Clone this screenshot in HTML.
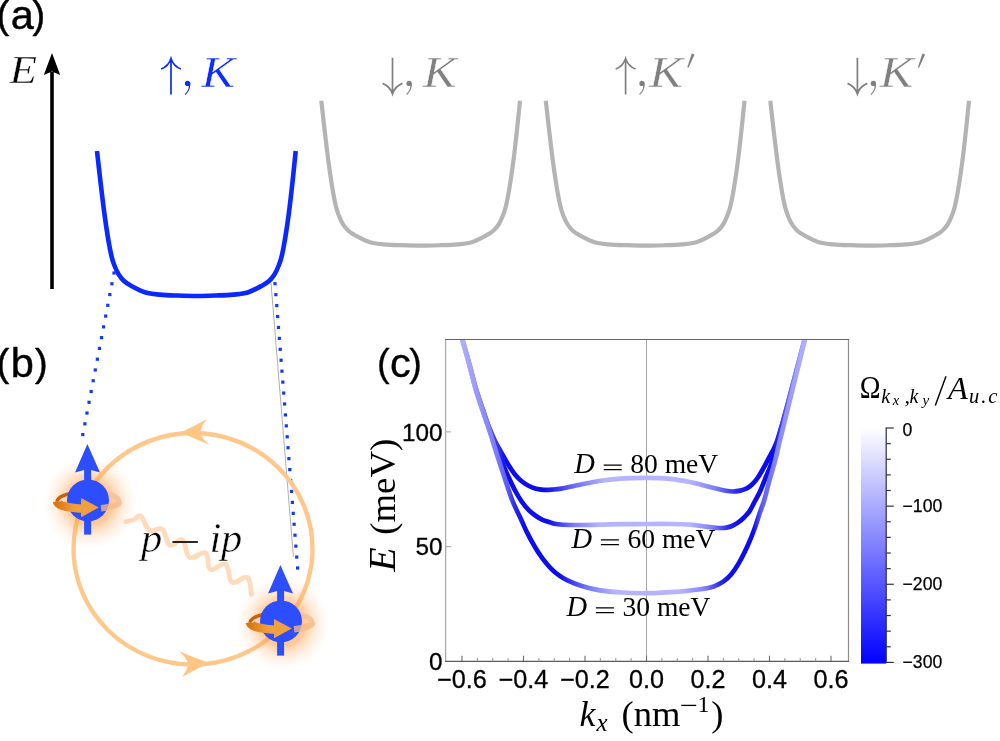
<!DOCTYPE html>
<html><head><meta charset="utf-8"><title>figure</title>
<style>
html,body{margin:0;padding:0;background:#fff;}
body{width:1000px;height:741px;overflow:hidden;font-family:"Liberation Sans",sans-serif;}
svg{display:block;}
.sans{font-family:"Liberation Sans",sans-serif;}
.serif{font-family:"Liberation Serif",serif;}
.it{font-family:"Liberation Serif",serif;font-style:italic;}
</style></head><body>
<svg width="1000" height="741" viewBox="0 0 1000 741">
<defs>
<filter id="noop" x="0" y="0" width="1000" height="741" filterUnits="userSpaceOnUse" color-interpolation-filters="sRGB"><feOffset dx="0" dy="0"/></filter>
<linearGradient id="g80" gradientUnits="userSpaceOnUse" x1="0" y1="0" x2="1000" y2="0"><stop offset="0.4610" stop-color="#b0b0ff"/><stop offset="0.4700" stop-color="#9c9cfc"/><stop offset="0.4800" stop-color="#7a7af6"/><stop offset="0.4900" stop-color="#5050f0"/><stop offset="0.5000" stop-color="#2a2aec"/><stop offset="0.5060" stop-color="#0c0cee"/><stop offset="0.5450" stop-color="#0c0cee"/><stop offset="0.5750" stop-color="#7070f6"/><stop offset="0.6050" stop-color="#b4b4ff"/><stop offset="0.6900" stop-color="#b4b4ff"/><stop offset="0.7150" stop-color="#8080f8"/><stop offset="0.7350" stop-color="#3030ee"/><stop offset="0.7480" stop-color="#0c0cee"/><stop offset="0.7720" stop-color="#0c0cee"/><stop offset="0.7820" stop-color="#4a4af0"/><stop offset="0.7920" stop-color="#7474f6"/><stop offset="0.8050" stop-color="#b0b0ff"/></linearGradient><linearGradient id="g60" gradientUnits="userSpaceOnUse" x1="0" y1="0" x2="1000" y2="0"><stop offset="0.4610" stop-color="#b0b0ff"/><stop offset="0.4700" stop-color="#9c9cfc"/><stop offset="0.4800" stop-color="#7a7af6"/><stop offset="0.4900" stop-color="#5050f0"/><stop offset="0.5000" stop-color="#2a2aec"/><stop offset="0.5060" stop-color="#0c0cee"/><stop offset="0.5480" stop-color="#0c0cee"/><stop offset="0.5750" stop-color="#8080f8"/><stop offset="0.6000" stop-color="#b4b4ff"/><stop offset="0.6900" stop-color="#b4b4ff"/><stop offset="0.7120" stop-color="#8080f8"/><stop offset="0.7280" stop-color="#2a2aee"/><stop offset="0.7400" stop-color="#0c0cee"/><stop offset="0.7730" stop-color="#0c0cee"/><stop offset="0.7830" stop-color="#4a4af0"/><stop offset="0.7930" stop-color="#7474f6"/><stop offset="0.8050" stop-color="#b0b0ff"/></linearGradient><linearGradient id="g30" gradientUnits="userSpaceOnUse" x1="0" y1="0" x2="1000" y2="0"><stop offset="0.4610" stop-color="#b0b0ff"/><stop offset="0.4800" stop-color="#9494fa"/><stop offset="0.4970" stop-color="#7a7af6"/><stop offset="0.5080" stop-color="#5a5af2"/><stop offset="0.5160" stop-color="#2424ec"/><stop offset="0.5250" stop-color="#0c0cee"/><stop offset="0.5600" stop-color="#0c0cee"/><stop offset="0.5850" stop-color="#7070f6"/><stop offset="0.6150" stop-color="#b4b4ff"/><stop offset="0.6800" stop-color="#b4b4ff"/><stop offset="0.7050" stop-color="#8080f8"/><stop offset="0.7200" stop-color="#2a2aee"/><stop offset="0.7300" stop-color="#0c0cee"/><stop offset="0.7530" stop-color="#0c0cee"/><stop offset="0.7610" stop-color="#5a5af2"/><stop offset="0.7760" stop-color="#8686f8"/><stop offset="0.8050" stop-color="#b0b0ff"/></linearGradient>
<linearGradient id="cb" x1="0" y1="0" x2="0" y2="1"><stop offset="0" stop-color="#ffffff"/><stop offset="1" stop-color="#0000ff"/></linearGradient>
<radialGradient id="glow" cx="0.5" cy="0.5" r="0.5">
<stop offset="0" stop-color="#ff9840" stop-opacity="0.56"/><stop offset="0.45" stop-color="#ff9840" stop-opacity="0.54"/><stop offset="0.55" stop-color="#ff9b44" stop-opacity="0.4"/><stop offset="0.67" stop-color="#ff9e4a" stop-opacity="0.24"/><stop offset="0.8" stop-color="#ffa250" stop-opacity="0.11"/><stop offset="0.92" stop-color="#ffa250" stop-opacity="0.035"/><stop offset="1" stop-color="#ffa250" stop-opacity="0"/>
</radialGradient>
<linearGradient id="ring" x1="0" y1="0" x2="1" y2="0"><stop offset="0" stop-color="#d87614"/><stop offset="0.55" stop-color="#ee9a3a"/><stop offset="1" stop-color="#f2a448"/></linearGradient>
</defs>
<rect width="1000" height="741" fill="#ffffff"/>
<g filter="url(#noop)">
<g id="panelA">
<g class="sans" fill="#000" stroke="#000" stroke-width="0.45"><text x="-3.6" y="27.5" font-size="38">(</text><text x="10.7" y="29.0" font-size="41.5">a</text><text x="32.5" y="27.5" font-size="38">)</text></g>
<text class="it" x="9.5" y="82.5" font-size="39" fill="#000" stroke="#fff" stroke-width="0.4" textLength="27.5" lengthAdjust="spacingAndGlyphs">E</text>
<line x1="52" y1="289" x2="52" y2="72" stroke="#000" stroke-width="3.6"/>
<path d="M52,53 L60.2,75 L52,71.5 L43.8,75 Z" fill="#000"/>
<path d="M97.00,151.00 C97.58,156.17 99.28,171.68 100.50,182.00 C101.72,192.32 103.05,203.57 104.30,212.90 C105.55,222.23 106.78,230.72 108.00,238.00 C109.22,245.28 110.47,251.85 111.60,256.60 C112.73,261.35 113.58,263.47 114.80,266.50 C116.02,269.53 117.37,272.38 118.90,274.80 C120.43,277.22 121.98,279.18 124.00,281.00 C126.02,282.82 127.40,283.78 131.00,285.70 C134.60,287.62 140.77,291.02 145.60,292.50 C150.43,293.98 154.77,294.10 160.00,294.60 C165.23,295.10 170.90,295.27 177.00,295.50 C183.10,295.73 190.10,296.00 196.60,296.00 C203.10,296.00 209.93,295.73 216.00,295.50 C222.07,295.27 227.73,295.10 233.00,294.60 C238.27,294.10 242.77,293.98 247.60,292.50 C252.43,291.02 258.43,287.62 262.00,285.70 C265.57,283.78 266.95,282.82 269.00,281.00 C271.05,279.18 272.75,277.22 274.30,274.80 C275.85,272.38 277.08,269.53 278.30,266.50 C279.52,263.47 280.45,261.35 281.60,256.60 C282.75,251.85 283.98,245.28 285.20,238.00 C286.42,230.72 287.68,222.23 288.90,212.90 C290.12,203.57 291.37,192.32 292.50,182.00 C293.63,171.68 295.17,156.17 295.70,151.00" fill="none" stroke="#0a28ff" stroke-width="4.6" stroke-linejoin="round"/>
<path d="M97.00,151.00 C97.58,156.17 99.28,171.68 100.50,182.00 C101.72,192.32 103.05,203.57 104.30,212.90 C105.55,222.23 106.78,230.72 108.00,238.00 C109.22,245.28 110.47,251.85 111.60,256.60 C112.73,261.35 113.58,263.47 114.80,266.50 C116.02,269.53 117.37,272.38 118.90,274.80 C120.43,277.22 121.98,279.18 124.00,281.00 C126.02,282.82 127.40,283.78 131.00,285.70 C134.60,287.62 140.77,291.02 145.60,292.50 C150.43,293.98 154.77,294.10 160.00,294.60 C165.23,295.10 170.90,295.27 177.00,295.50 C183.10,295.73 190.10,296.00 196.60,296.00 C203.10,296.00 209.93,295.73 216.00,295.50 C222.07,295.27 227.73,295.10 233.00,294.60 C238.27,294.10 242.77,293.98 247.60,292.50 C252.43,291.02 258.43,287.62 262.00,285.70 C265.57,283.78 266.95,282.82 269.00,281.00 C271.05,279.18 272.75,277.22 274.30,274.80 C275.85,272.38 277.08,269.53 278.30,266.50 C279.52,263.47 280.45,261.35 281.60,256.60 C282.75,251.85 283.98,245.28 285.20,238.00 C286.42,230.72 287.68,222.23 288.90,212.90 C290.12,203.57 291.37,192.32 292.50,182.00 C293.63,171.68 295.17,156.17 295.70,151.00" transform="translate(224.3,-50.3)" fill="none" stroke="#b4b4b4" stroke-width="4.2"/>
<path d="M97.00,151.00 C97.58,156.17 99.28,171.68 100.50,182.00 C101.72,192.32 103.05,203.57 104.30,212.90 C105.55,222.23 106.78,230.72 108.00,238.00 C109.22,245.28 110.47,251.85 111.60,256.60 C112.73,261.35 113.58,263.47 114.80,266.50 C116.02,269.53 117.37,272.38 118.90,274.80 C120.43,277.22 121.98,279.18 124.00,281.00 C126.02,282.82 127.40,283.78 131.00,285.70 C134.60,287.62 140.77,291.02 145.60,292.50 C150.43,293.98 154.77,294.10 160.00,294.60 C165.23,295.10 170.90,295.27 177.00,295.50 C183.10,295.73 190.10,296.00 196.60,296.00 C203.10,296.00 209.93,295.73 216.00,295.50 C222.07,295.27 227.73,295.10 233.00,294.60 C238.27,294.10 242.77,293.98 247.60,292.50 C252.43,291.02 258.43,287.62 262.00,285.70 C265.57,283.78 266.95,282.82 269.00,281.00 C271.05,279.18 272.75,277.22 274.30,274.80 C275.85,272.38 277.08,269.53 278.30,266.50 C279.52,263.47 280.45,261.35 281.60,256.60 C282.75,251.85 283.98,245.28 285.20,238.00 C286.42,230.72 287.68,222.23 288.90,212.90 C290.12,203.57 291.37,192.32 292.50,182.00 C293.63,171.68 295.17,156.17 295.70,151.00" transform="translate(448.8,-50.3)" fill="none" stroke="#b4b4b4" stroke-width="4.2"/>
<path d="M97.00,151.00 C97.58,156.17 99.28,171.68 100.50,182.00 C101.72,192.32 103.05,203.57 104.30,212.90 C105.55,222.23 106.78,230.72 108.00,238.00 C109.22,245.28 110.47,251.85 111.60,256.60 C112.73,261.35 113.58,263.47 114.80,266.50 C116.02,269.53 117.37,272.38 118.90,274.80 C120.43,277.22 121.98,279.18 124.00,281.00 C126.02,282.82 127.40,283.78 131.00,285.70 C134.60,287.62 140.77,291.02 145.60,292.50 C150.43,293.98 154.77,294.10 160.00,294.60 C165.23,295.10 170.90,295.27 177.00,295.50 C183.10,295.73 190.10,296.00 196.60,296.00 C203.10,296.00 209.93,295.73 216.00,295.50 C222.07,295.27 227.73,295.10 233.00,294.60 C238.27,294.10 242.77,293.98 247.60,292.50 C252.43,291.02 258.43,287.62 262.00,285.70 C265.57,283.78 266.95,282.82 269.00,281.00 C271.05,279.18 272.75,277.22 274.30,274.80 C275.85,272.38 277.08,269.53 278.30,266.50 C279.52,263.47 280.45,261.35 281.60,256.60 C282.75,251.85 283.98,245.28 285.20,238.00 C286.42,230.72 287.68,222.23 288.90,212.90 C290.12,203.57 291.37,192.32 292.50,182.00 C293.63,171.68 295.17,156.17 295.70,151.00" transform="translate(673.3,-50.3)" fill="none" stroke="#b4b4b4" stroke-width="4.2"/>
<path d="M171.0,94.6 V58.8 M161.1,69 Q168.6,66 171.0,58.4 Q173.4,66 180.9,69" fill="none" stroke="#0a2cff" stroke-width="1.7"/><circle cx="187.6" cy="83.4" r="2.65" fill="#0a2cff"/><path d="M190.2,83.0 C190.8,88.0 188.5,92.2 185.5,94.9 L184.8,94.1 C187.2,91.8 189.1,88.8 188.8,85.4 Z" fill="#0a2cff"/><text class="it" x="201.5" y="86.6" font-size="44" fill="#0a2cff" stroke="#fff" stroke-width="0.45" textLength="33.5" lengthAdjust="spacingAndGlyphs">K</text>
<path d="M392.5,57.8 V93.6 M382.6,83.4 Q390.1,86.4 392.5,94 Q394.9,86.4 402.4,83.4" fill="none" stroke="#808080" stroke-width="1.7"/><circle cx="409.1" cy="83.4" r="2.65" fill="#808080"/><path d="M411.8,83.0 C412.3,88.0 410.0,92.2 407.0,94.9 L406.3,94.1 C408.7,91.8 410.6,88.8 410.3,85.4 Z" fill="#808080"/><text class="it" x="423.0" y="86.6" font-size="44" fill="#808080" stroke="#fff" stroke-width="0.45" textLength="33.5" lengthAdjust="spacingAndGlyphs">K</text>
<path d="M625.6,94.6 V58.8 M615.7,69 Q623.2,66 625.6,58.4 Q628.0,66 635.5,69" fill="none" stroke="#808080" stroke-width="1.7"/><circle cx="642.0" cy="83.4" r="2.65" fill="#808080"/><path d="M644.6,83.0 C645.2,88.0 642.9,92.2 639.9,94.9 L639.2,94.1 C641.6,91.8 643.5,88.8 643.2,85.4 Z" fill="#808080"/><text class="it" x="649.2" y="86.6" font-size="44" fill="#808080" stroke="#fff" stroke-width="0.45" textLength="33.5" lengthAdjust="spacingAndGlyphs">K</text><path d="M691.8,53.6 L694.5,54.6 L688.5,67.8 L687.3,67.3 Z" fill="#808080"/>
<path d="M857.4,57.8 V93.6 M847.5,83.4 Q855.0,86.4 857.4,94 Q859.8,86.4 867.3,83.4" fill="none" stroke="#808080" stroke-width="1.7"/><circle cx="873.4" cy="83.4" r="2.65" fill="#808080"/><path d="M876.0,83.0 C876.6,88.0 874.3,92.2 871.3,94.9 L870.6,94.1 C873.0,91.8 874.9,88.8 874.6,85.4 Z" fill="#808080"/><text class="it" x="879.8" y="86.6" font-size="44" fill="#808080" stroke="#fff" stroke-width="0.45" textLength="33.5" lengthAdjust="spacingAndGlyphs">K</text><path d="M922.4,53.6 L925.1,54.6 L919.1,67.8 L917.9,67.3 Z" fill="#808080"/>
</g>
<g id="panelB">
<g class="sans" fill="#000" stroke="#000" stroke-width="0.45"><text x="-3.6" y="375.6" font-size="38">(</text><text x="10.7" y="377.1" font-size="41.5">b</text><text x="34.9" y="375.6" font-size="38">)</text></g>
<rect x="112.40" y="271.40" width="3.2" height="3.2" fill="#1238ff"/><rect x="110.32" y="282.17" width="3.2" height="3.2" fill="#1238ff"/><rect x="108.24" y="292.95" width="3.2" height="3.2" fill="#1238ff"/><rect x="106.16" y="303.72" width="3.2" height="3.2" fill="#1238ff"/><rect x="104.08" y="314.49" width="3.2" height="3.2" fill="#1238ff"/><rect x="102.00" y="325.27" width="3.2" height="3.2" fill="#1238ff"/><rect x="99.92" y="336.04" width="3.2" height="3.2" fill="#1238ff"/><rect x="97.84" y="346.81" width="3.2" height="3.2" fill="#1238ff"/><rect x="95.76" y="357.59" width="3.2" height="3.2" fill="#1238ff"/><rect x="93.68" y="368.36" width="3.2" height="3.2" fill="#1238ff"/><rect x="91.60" y="379.13" width="3.2" height="3.2" fill="#1238ff"/><rect x="89.52" y="389.91" width="3.2" height="3.2" fill="#1238ff"/><rect x="87.44" y="400.68" width="3.2" height="3.2" fill="#1238ff"/><rect x="85.36" y="411.45" width="3.2" height="3.2" fill="#1238ff"/><rect x="83.28" y="422.23" width="3.2" height="3.2" fill="#1238ff"/><rect x="81.20" y="433.00" width="3.2" height="3.2" fill="#1238ff"/>
<line x1="271" y1="283" x2="293.4" y2="556.6" stroke="#b0b0b0" stroke-width="1"/>
<rect x="273.40" y="282.10" width="3.2" height="3.2" fill="#1238ff"/><rect x="274.27" y="293.03" width="3.2" height="3.2" fill="#1238ff"/><rect x="275.14" y="303.97" width="3.2" height="3.2" fill="#1238ff"/><rect x="276.01" y="314.90" width="3.2" height="3.2" fill="#1238ff"/><rect x="276.88" y="325.84" width="3.2" height="3.2" fill="#1238ff"/><rect x="277.75" y="336.77" width="3.2" height="3.2" fill="#1238ff"/><rect x="278.62" y="347.71" width="3.2" height="3.2" fill="#1238ff"/><rect x="279.48" y="358.64" width="3.2" height="3.2" fill="#1238ff"/><rect x="280.35" y="369.58" width="3.2" height="3.2" fill="#1238ff"/><rect x="281.22" y="380.51" width="3.2" height="3.2" fill="#1238ff"/><rect x="282.09" y="391.45" width="3.2" height="3.2" fill="#1238ff"/><rect x="282.96" y="402.38" width="3.2" height="3.2" fill="#1238ff"/><rect x="283.83" y="413.32" width="3.2" height="3.2" fill="#1238ff"/><rect x="284.70" y="424.25" width="3.2" height="3.2" fill="#1238ff"/><rect x="285.57" y="435.18" width="3.2" height="3.2" fill="#1238ff"/><rect x="286.44" y="446.12" width="3.2" height="3.2" fill="#1238ff"/><rect x="287.31" y="457.05" width="3.2" height="3.2" fill="#1238ff"/><rect x="288.18" y="467.99" width="3.2" height="3.2" fill="#1238ff"/><rect x="289.05" y="478.92" width="3.2" height="3.2" fill="#1238ff"/><rect x="289.92" y="489.86" width="3.2" height="3.2" fill="#1238ff"/><rect x="290.78" y="500.79" width="3.2" height="3.2" fill="#1238ff"/><rect x="291.65" y="511.73" width="3.2" height="3.2" fill="#1238ff"/><rect x="292.52" y="522.66" width="3.2" height="3.2" fill="#1238ff"/><rect x="293.39" y="533.60" width="3.2" height="3.2" fill="#1238ff"/><rect x="294.26" y="544.53" width="3.2" height="3.2" fill="#1238ff"/><rect x="295.13" y="555.47" width="3.2" height="3.2" fill="#1238ff"/><rect x="296.00" y="566.40" width="3.2" height="3.2" fill="#1238ff"/>
<ellipse cx="193" cy="548.8" rx="119.5" ry="115.8" fill="none" stroke="#ffc78a" stroke-width="4.3"/>
<path d="M180.6,432.6 Q194.5,426.2 207,419 Q200.3,427.5 200.6,433 Q201.5,438.5 209.6,444.8 Q195,439 180.6,432.6 Z" fill="#ffc683"/>
<path d="M208.4,662.8 Q193,657.2 179,651 Q187.3,658.5 188,664 Q187.6,669.5 182,677 Q195,670.2 208.4,662.8 Z" fill="#ffc683"/>
<path d="M126.00,521.60 C127.65,521.21 130.96,520.84 134.00,519.70 C137.04,518.56 137.46,513.91 140.70,516.10 C143.94,518.29 145.24,527.55 149.70,530.30 C154.16,533.05 158.17,526.32 162.30,529.40 C166.43,532.48 165.57,542.99 169.70,545.20 C173.83,547.41 178.17,537.56 182.30,540.10 C186.43,542.64 184.91,554.85 189.70,557.50 C194.49,560.15 201.20,550.42 205.50,552.90 C209.80,555.38 206.37,567.19 210.50,569.50 C214.63,571.81 221.04,561.45 225.50,564.10 C229.96,566.75 227.64,579.55 232.10,582.30 C236.56,585.05 243.11,574.94 247.10,577.40 C251.09,579.86 250.51,590.73 251.40,594.20" fill="none" stroke="#ffdabb" stroke-width="4.8" stroke-linecap="round" stroke-linejoin="round"/>
<text class="it" x="141" y="552" font-size="42.5" fill="#000" stroke="#fff" stroke-width="0.5">p</text>
<line x1="172.4" y1="542" x2="197.8" y2="542" stroke="#000" stroke-width="1.7"/>
<text class="it" x="209.4" y="552" font-size="42.5" fill="#000" stroke="#fff" stroke-width="0.5">i</text>
<text class="it" x="221" y="552" font-size="42.5" fill="#000" stroke="#fff" stroke-width="0.5">p</text>
<circle cx="90.0" cy="502.4" r="47" fill="url(#glow)"/><path d="M57.0,501.7 A31.0,10.0 0 0 1 78.0,492.2" fill="none" stroke="#c9600a" stroke-width="3.4"/><path d="M98.0,492.2 A31.0,10.0 0 0 1 119.0,501.7" fill="none" stroke="#f5c49c" stroke-width="5.4"/><rect x="84.10" y="466.40" width="7" height="68.2" fill="#2c4eff"/><path d="M87.4,443.9 L100.0,472.6 L91.0,469.9 L87.6,469.9 L84.2,469.9 L75.0,472.6 Z" fill="#2c4eff"/><circle cx="88.0" cy="500.4" r="21" fill="#2c4eff"/><path d="M119.0,501.7 A31.0,7.2 0 0 1 101.0,508.3" fill="none" stroke="#f3b988" stroke-opacity="0.78" stroke-width="6.6"/><path d="M57.0,501.7 A31.0,7.2 0 0 0 84.0,508.7" fill="none" stroke="url(#ring)" stroke-width="8.4"/><path d="M98.8,507.6 L81.0,498.0 L81.0,517.2 Z" fill="#f0a040"/>
<circle cx="283.0" cy="623.4" r="47" fill="url(#glow)"/><path d="M250.0,622.7 A31.0,10.0 0 0 1 271.0,613.2" fill="none" stroke="#c9600a" stroke-width="3.4"/><path d="M291.0,613.2 A31.0,10.0 0 0 1 312.0,622.7" fill="none" stroke="#f5c49c" stroke-width="5.4"/><rect x="277.10" y="587.40" width="7" height="68.2" fill="#2c4eff"/><path d="M280.4,564.9 L293.0,593.6 L284.0,590.9 L280.6,590.9 L277.2,590.9 L268.0,593.6 Z" fill="#2c4eff"/><circle cx="281.0" cy="621.4" r="21" fill="#2c4eff"/><path d="M312.0,622.7 A31.0,7.2 0 0 1 294.0,629.3" fill="none" stroke="#f3b988" stroke-opacity="0.78" stroke-width="6.6"/><path d="M250.0,622.7 A31.0,7.2 0 0 0 277.0,629.7" fill="none" stroke="url(#ring)" stroke-width="8.4"/><path d="M291.8,628.6 L274.0,619.0 L274.0,638.2 Z" fill="#f0a040"/>
</g>
<g id="panelC">
<g class="sans" fill="#000" stroke="#000" stroke-width="0.30"><text x="376.9" y="375.6" font-size="38">(</text><text x="390.0" y="377.1" font-size="41.5">c</text><text x="409.2" y="375.6" font-size="38">)</text></g>
<line x1="646.5" y1="339.5" x2="646.5" y2="661.3" stroke="#a4a4a4" stroke-width="1"/>
<clipPath id="clipc"><rect x="445.6" y="339.5" width="402.9" height="321.8"/></clipPath>
<g fill="none" stroke-width="4.7" clip-path="url(#clipc)"><path d="M462.30,339.00 C463.47,343.17 467.02,355.67 469.30,364.00 C471.58,372.33 473.78,381.50 476.00,389.00 C478.22,396.50 480.47,402.72 482.60,409.00 C484.73,415.28 486.73,421.37 488.80,426.70 C490.87,432.03 492.80,436.50 495.00,441.00 C497.20,445.50 499.75,449.70 502.00,453.70 C504.25,457.70 506.23,461.40 508.50,465.00 C510.77,468.60 513.35,472.55 515.60,475.30 C517.85,478.05 519.77,479.72 522.00,481.50 C524.23,483.28 526.67,484.78 529.00,486.00 C531.33,487.22 533.50,488.17 536.00,488.80 C538.50,489.43 541.33,489.67 544.00,489.80 C546.67,489.93 549.10,489.80 552.00,489.60 C554.90,489.40 556.73,489.40 561.40,488.60 C566.07,487.80 573.73,486.07 580.00,484.80 C586.27,483.53 592.33,482.03 599.00,481.00 C605.67,479.97 612.08,479.13 620.00,478.60 C627.92,478.07 638.17,477.77 646.50,477.80 C654.83,477.83 662.75,478.10 670.00,478.80 C677.25,479.50 684.17,480.83 690.00,482.00 C695.83,483.17 700.50,484.67 705.00,485.80 C709.50,486.93 713.50,487.97 717.00,488.80 C720.50,489.63 723.30,490.35 726.00,490.80 C728.70,491.25 730.87,491.53 733.20,491.50 C735.53,491.47 737.75,491.13 740.00,490.60 C742.25,490.07 744.70,489.32 746.70,488.30 C748.70,487.28 750.20,486.22 752.00,484.50 C753.80,482.78 755.67,480.58 757.50,478.00 C759.33,475.42 761.20,472.17 763.00,469.00 C764.80,465.83 766.08,463.33 768.30,459.00 C770.52,454.67 773.62,450.17 776.30,443.00 C778.98,435.83 781.25,427.25 784.40,416.00 C787.55,404.75 791.82,388.33 795.20,375.50 C798.58,362.67 803.12,345.08 804.70,339.00" stroke="url(#g80)"/><path d="M462.30,339.00 C463.47,343.17 467.02,355.67 469.30,364.00 C471.58,372.33 473.78,381.50 476.00,389.00 C478.22,396.50 480.47,402.58 482.60,409.00 C484.73,415.42 486.73,421.67 488.80,427.50 C490.87,433.33 492.80,438.28 495.00,444.00 C497.20,449.72 499.75,456.30 502.00,461.80 C504.25,467.30 506.23,472.05 508.50,477.00 C510.77,481.95 513.35,487.33 515.60,491.50 C517.85,495.67 519.77,498.85 522.00,502.00 C524.23,505.15 526.67,508.07 529.00,510.40 C531.33,512.73 533.75,514.43 536.00,516.00 C538.25,517.57 540.33,518.80 542.50,519.80 C544.67,520.80 546.75,521.30 549.00,522.00 C551.25,522.70 552.50,523.50 556.00,524.00 C559.50,524.50 562.83,524.88 570.00,525.00 C577.17,525.12 590.67,524.83 599.00,524.70 C607.33,524.57 612.08,524.32 620.00,524.20 C627.92,524.08 638.17,524.03 646.50,524.00 C654.83,523.97 662.75,523.90 670.00,524.00 C677.25,524.10 684.00,524.17 690.00,524.60 C696.00,525.03 701.67,526.07 706.00,526.60 C710.33,527.13 712.83,527.60 716.00,527.80 C719.17,528.00 722.33,528.10 725.00,527.80 C727.67,527.50 729.73,526.93 732.00,526.00 C734.27,525.07 736.60,523.62 738.60,522.20 C740.60,520.78 742.20,519.30 744.00,517.50 C745.80,515.70 747.57,514.15 749.40,511.40 C751.23,508.65 753.23,504.32 755.00,501.00 C756.77,497.68 758.25,495.33 760.00,491.50 C761.75,487.67 763.67,482.50 765.50,478.00 C767.33,473.50 769.12,470.25 771.00,464.50 C772.88,458.75 774.53,451.58 776.80,443.50 C779.07,435.42 781.53,427.33 784.60,416.00 C787.67,404.67 791.85,388.33 795.20,375.50 C798.55,362.67 803.12,345.08 804.70,339.00" stroke="url(#g60)"/><path d="M462.00,339.00 C463.17,343.17 466.73,355.67 469.00,364.00 C471.27,372.33 473.40,381.42 475.60,389.00 C477.80,396.58 480.03,403.00 482.20,409.50 C484.37,416.00 486.18,420.63 488.60,428.00 C491.02,435.37 494.30,446.20 496.70,453.70 C499.10,461.20 500.43,465.28 503.00,473.00 C505.57,480.72 509.23,492.58 512.10,500.00 C514.97,507.42 517.72,512.10 520.20,517.50 C522.68,522.90 524.52,527.45 527.00,532.40 C529.48,537.35 532.40,542.70 535.10,547.20 C537.80,551.70 540.50,555.80 543.20,559.40 C545.90,563.00 548.60,566.10 551.30,568.80 C554.00,571.50 556.70,573.68 559.40,575.60 C562.10,577.52 563.90,578.62 567.50,580.30 C571.10,581.98 575.58,584.02 581.00,585.70 C586.42,587.38 593.17,589.27 600.00,590.40 C606.83,591.53 614.17,592.03 622.00,592.50 C629.83,592.97 637.33,593.35 647.00,593.20 C656.67,593.05 671.13,592.25 680.00,591.60 C688.87,590.95 694.58,590.17 700.20,589.30 C705.82,588.43 709.87,587.68 713.70,586.40 C717.53,585.12 720.27,583.63 723.20,581.60 C726.13,579.57 728.60,577.45 731.30,574.20 C734.00,570.95 736.70,566.82 739.40,562.10 C742.10,557.38 745.03,551.30 747.50,545.90 C749.97,540.50 752.18,535.10 754.20,529.70 C756.22,524.30 757.92,518.45 759.60,513.50 C761.28,508.55 762.63,505.58 764.30,500.00 C765.97,494.42 767.82,486.50 769.60,480.00 C771.38,473.50 773.40,467.08 775.00,461.00 C776.60,454.92 777.37,451.00 779.20,443.50 C781.03,436.00 783.20,427.33 786.00,416.00 C788.80,404.67 792.80,388.33 796.00,375.50 C799.20,362.67 803.67,345.08 805.20,339.00" stroke="url(#g30)"/></g>
<line x1="445.6" y1="339.5" x2="445.6" y2="661.3" stroke="#ababab" stroke-width="1.3"/>
<line x1="848.5" y1="339.5" x2="848.5" y2="661.3" stroke="#8c8c8c" stroke-width="1.2"/>
<line x1="445.0" y1="339.5" x2="849.1" y2="339.5" stroke="#666" stroke-width="1.2"/>
<line x1="445.0" y1="661.3" x2="849.1" y2="661.3" stroke="#5a5a5a" stroke-width="1.2"/>
<line x1="462.00" y1="661.30" x2="462.00" y2="655.70" stroke="#6a6a6a" stroke-width="1.1"/><line x1="477.38" y1="661.30" x2="477.38" y2="658.10" stroke="#9c9c9c" stroke-width="1.1"/><line x1="492.75" y1="661.30" x2="492.75" y2="658.10" stroke="#9c9c9c" stroke-width="1.1"/><line x1="508.12" y1="661.30" x2="508.12" y2="658.10" stroke="#9c9c9c" stroke-width="1.1"/><line x1="523.50" y1="661.30" x2="523.50" y2="655.70" stroke="#6a6a6a" stroke-width="1.1"/><line x1="538.88" y1="661.30" x2="538.88" y2="658.10" stroke="#9c9c9c" stroke-width="1.1"/><line x1="554.25" y1="661.30" x2="554.25" y2="658.10" stroke="#9c9c9c" stroke-width="1.1"/><line x1="569.62" y1="661.30" x2="569.62" y2="658.10" stroke="#9c9c9c" stroke-width="1.1"/><line x1="585.00" y1="661.30" x2="585.00" y2="655.70" stroke="#6a6a6a" stroke-width="1.1"/><line x1="600.38" y1="661.30" x2="600.38" y2="658.10" stroke="#9c9c9c" stroke-width="1.1"/><line x1="615.75" y1="661.30" x2="615.75" y2="658.10" stroke="#9c9c9c" stroke-width="1.1"/><line x1="631.12" y1="661.30" x2="631.12" y2="658.10" stroke="#9c9c9c" stroke-width="1.1"/><line x1="646.50" y1="661.30" x2="646.50" y2="655.70" stroke="#6a6a6a" stroke-width="1.1"/><line x1="661.88" y1="661.30" x2="661.88" y2="658.10" stroke="#9c9c9c" stroke-width="1.1"/><line x1="677.25" y1="661.30" x2="677.25" y2="658.10" stroke="#9c9c9c" stroke-width="1.1"/><line x1="692.62" y1="661.30" x2="692.62" y2="658.10" stroke="#9c9c9c" stroke-width="1.1"/><line x1="708.00" y1="661.30" x2="708.00" y2="655.70" stroke="#6a6a6a" stroke-width="1.1"/><line x1="723.38" y1="661.30" x2="723.38" y2="658.10" stroke="#9c9c9c" stroke-width="1.1"/><line x1="738.75" y1="661.30" x2="738.75" y2="658.10" stroke="#9c9c9c" stroke-width="1.1"/><line x1="754.12" y1="661.30" x2="754.12" y2="658.10" stroke="#9c9c9c" stroke-width="1.1"/><line x1="769.50" y1="661.30" x2="769.50" y2="655.70" stroke="#6a6a6a" stroke-width="1.1"/><line x1="784.88" y1="661.30" x2="784.88" y2="658.10" stroke="#9c9c9c" stroke-width="1.1"/><line x1="800.25" y1="661.30" x2="800.25" y2="658.10" stroke="#9c9c9c" stroke-width="1.1"/><line x1="815.62" y1="661.30" x2="815.62" y2="658.10" stroke="#9c9c9c" stroke-width="1.1"/><line x1="831.00" y1="661.30" x2="831.00" y2="655.70" stroke="#6a6a6a" stroke-width="1.1"/><line x1="445.60" y1="546.60" x2="451.20" y2="546.60" stroke="#b4b4b4" stroke-width="1.2"/><line x1="445.60" y1="431.90" x2="451.20" y2="431.90" stroke="#b4b4b4" stroke-width="1.2"/>
<g class="sans" fill="#000"><text x="462.00" y="688" text-anchor="middle" font-size="25.2" stroke="#000" stroke-width="0.3">−0.6</text><text x="523.50" y="688" text-anchor="middle" font-size="25.2" stroke="#000" stroke-width="0.3">−0.4</text><text x="585.00" y="688" text-anchor="middle" font-size="25.2" stroke="#000" stroke-width="0.3">−0.2</text><text x="646.50" y="688" text-anchor="middle" font-size="25.2" stroke="#000" stroke-width="0.3">0.0</text><text x="708.00" y="688" text-anchor="middle" font-size="25.2" stroke="#000" stroke-width="0.3">0.2</text><text x="769.50" y="688" text-anchor="middle" font-size="25.2" stroke="#000" stroke-width="0.3">0.4</text><text x="831.00" y="688" text-anchor="middle" font-size="25.2" stroke="#000" stroke-width="0.3">0.6</text><text x="442.6" y="669.90" text-anchor="end" font-size="24.3" stroke="#000" stroke-width="0.3">0</text><text x="442.6" y="555.20" text-anchor="end" font-size="24.3" stroke="#000" stroke-width="0.3">50</text><text x="442.6" y="440.50" text-anchor="end" font-size="24.3" stroke="#000" stroke-width="0.3">100</text></g>
<g fill="#000"><text class="it" x="574.3" y="473.3" font-size="28.5">D</text><path d="M603.7,465.0 h18 M603.7,469.7 h18" stroke="#000" stroke-width="1.25" fill="none"/><text class="serif" x="630.3" y="473.3" font-size="27.6">80</text><text class="serif" x="664.7" y="473.3" font-size="27.5">meV</text><text class="it" x="571.5" y="548.2" font-size="28.5">D</text><path d="M600.9,539.9 h18 M600.9,544.6 h18" stroke="#000" stroke-width="1.25" fill="none"/><text class="serif" x="627.5" y="548.2" font-size="27.6">60</text><text class="serif" x="661.9" y="548.2" font-size="27.5">meV</text><text class="it" x="566.5" y="616.2" font-size="28.5">D</text><path d="M595.9,607.9 h18 M595.9,612.6 h18" stroke="#000" stroke-width="1.25" fill="none"/><text class="serif" x="622.5" y="616.2" font-size="27.6">30</text><text class="serif" x="656.9" y="616.2" font-size="27.5">meV</text></g>
<text class="it" x="579.4" y="726" font-size="36" fill="#000">k</text>
<text class="it" x="596.6" y="730.6" font-size="25" fill="#000">x</text>
<text class="serif" x="621.6" y="726" font-size="36.6" fill="#000">(nm</text>
<line x1="681.2" y1="705.4" x2="696.2" y2="705.4" stroke="#000" stroke-width="1.3"/>
<text class="serif" x="697.6" y="712.3" font-size="24" fill="#000">1</text>
<text class="serif" x="711.2" y="726" font-size="36.6" fill="#000">)</text>
<g transform="translate(394.6,571.8) rotate(-90)"><text class="it" x="0" y="0" font-size="37" fill="#000" textLength="24.5" lengthAdjust="spacingAndGlyphs">E</text><text class="serif" x="37" y="0" font-size="36.8" fill="#000">(meV)</text></g>
<rect x="861.0" y="428.0" width="25.2" height="235.6" fill="url(#cb)"/>
<line x1="886.2" y1="427.4" x2="886.2" y2="663.0" stroke="#2a2a50" stroke-width="1.2"/>
<line x1="886.20" y1="428.00" x2="893.80" y2="428.00" stroke="#33333f" stroke-width="1.2"/><line x1="886.20" y1="443.63" x2="890.80" y2="443.63" stroke="#33333f" stroke-width="1.2"/><line x1="886.20" y1="459.25" x2="890.80" y2="459.25" stroke="#33333f" stroke-width="1.2"/><line x1="886.20" y1="474.88" x2="890.80" y2="474.88" stroke="#33333f" stroke-width="1.2"/><line x1="886.20" y1="490.51" x2="890.80" y2="490.51" stroke="#33333f" stroke-width="1.2"/><line x1="886.20" y1="506.13" x2="893.80" y2="506.13" stroke="#33333f" stroke-width="1.2"/><line x1="886.20" y1="521.76" x2="890.80" y2="521.76" stroke="#33333f" stroke-width="1.2"/><line x1="886.20" y1="537.39" x2="890.80" y2="537.39" stroke="#33333f" stroke-width="1.2"/><line x1="886.20" y1="553.01" x2="890.80" y2="553.01" stroke="#33333f" stroke-width="1.2"/><line x1="886.20" y1="568.64" x2="890.80" y2="568.64" stroke="#33333f" stroke-width="1.2"/><line x1="886.20" y1="584.27" x2="893.80" y2="584.27" stroke="#33333f" stroke-width="1.2"/><line x1="886.20" y1="599.89" x2="890.80" y2="599.89" stroke="#33333f" stroke-width="1.2"/><line x1="886.20" y1="615.52" x2="890.80" y2="615.52" stroke="#33333f" stroke-width="1.2"/><line x1="886.20" y1="631.15" x2="890.80" y2="631.15" stroke="#33333f" stroke-width="1.2"/><line x1="886.20" y1="646.77" x2="890.80" y2="646.77" stroke="#33333f" stroke-width="1.2"/><line x1="886.20" y1="662.40" x2="893.80" y2="662.40" stroke="#33333f" stroke-width="1.2"/>
<g class="sans" font-size="17.6" fill="#000" stroke="#000" stroke-width="0.25"><text x="902.60" y="435.60">0</text><text x="902.60" y="511.53">−100</text><text x="902.60" y="589.67">−200</text><text x="902.60" y="667.80">−300</text></g>
<text class="serif" x="859.8" y="398.4" font-size="32" fill="#000" textLength="20.8" lengthAdjust="spacingAndGlyphs">Ω</text>
<text class="it" x="881.2" y="402.8" font-size="20" fill="#000">k</text>
<text class="it" x="892.8" y="405.3" font-size="14.5" fill="#000">x</text>
<text class="it" x="904.6" y="402.6" font-size="22" fill="#000">,</text>
<text class="it" x="909.6" y="402.8" font-size="20" fill="#000">k</text>
<text class="it" x="922.6" y="405.3" font-size="15" fill="#000">y</text>
<line x1="935.3" y1="405.6" x2="946" y2="376.2" stroke="#000" stroke-width="1.4"/>
<text class="it" x="948" y="398.5" font-size="32.5" fill="#000">A</text>
<text class="it" x="969" y="402.8" font-size="20.5" fill="#000" letter-spacing="1.9">u.c.</text>
</g>
</g>
</svg>
</body></html>
